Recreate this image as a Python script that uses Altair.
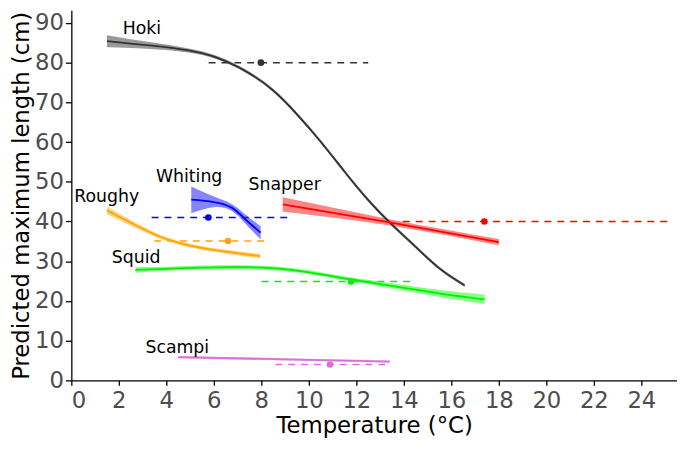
import altair as alt
import pandas as pd

species = ["Hoki", "Whiting", "Roughy", "Snapper", "Squid", "Scampi"]
colors = ["#333333", "#0000ff", "#ffa500", "#ff0000", "#00ee00", "#da70d6"]
band_colors = ["#555555", "#3333ff", "#ffb732", "#ff3333", "#33ff33", "#e08ce0"]

# fitted curves (temperature, predicted length, lower, upper)
hoki_x = [1.5, 2.5, 3.5, 4.5, 5.5, 6.5, 7.5, 8.5, 9.5, 10.5, 11.5, 12.5, 13.5, 14.5, 15.5, 16.56]
hoki_y = [85.4, 84.8, 84.2, 83.5, 82.4, 80.4, 77.3, 73.0, 67.0, 60.1, 52.6, 45.4, 39.2, 33.6, 28.2, 23.9]
hoki_hw = [1.5, 1.1, 0.8, 0.6, 0.45, 0.4, 0.4, 0.4, 0.45, 0.45, 0.45, 0.45, 0.45, 0.4, 0.4, 0.4]

whiting_x = [5.05, 6.0, 6.75, 7.3, 7.97]
whiting_y = [45.5, 44.9, 43.5, 40.7, 37.2]
whiting_lo = [42.1, 43.6, 42.7, 39.6, 35.5]
whiting_hi = [48.8, 46.3, 44.4, 41.9, 38.8]

roughy_x = [1.5, 2.3, 3.2, 4.0, 5.1, 6.5, 7.95]
roughy_y = [42.8, 40.3, 37.6, 35.6, 33.8, 32.4, 31.3]
roughy_hw = [1.0, 0.8, 0.6, 0.5, 0.5, 0.5, 0.6]

snapper_x = [8.9, 13.4, 18.0]
snapper_y = [44.3, 39.8, 34.8]
snapper_hw = [1.8, 0.8, 0.8]

squid_x = [2.7, 4.0, 5.5, 7.0, 8.3, 9.8, 11.8, 14.0, 15.6, 17.4]
squid_y = [27.8, 28.1, 28.4, 28.5, 28.3, 27.4, 25.4, 23.3, 21.8, 20.4]
squid_hw = [0.7, 0.5, 0.5, 0.5, 0.5, 0.5, 0.5, 0.7, 0.9, 1.2]

scampi_x = [4.5, 9.0, 13.4]
scampi_y = [5.83, 5.3, 4.74]
scampi_hw = [0.3, 0.3, 0.3]

# observed mean temperature (point), temperature range (dashed) and observed length
obs_x1 = [5.78, 3.38, 3.49, 13.96, 8.01, 8.59]
obs_x2 = [12.5, 9.12, 8.17, 25.2, 14.34, 13.34]
obs_pt = [7.98, 5.77, 6.6, 17.39, 11.78, 10.89]
obs_len = [80.0, 41.0, 35.1, 40.0, 24.9, 4.0]

# label positions
lab_x = [2.97, 4.96, 1.49, 8.98, 2.73, 4.46]
lab_y = [87.1, 50.0, 45.0, 47.9, 29.6, 6.8]

rows = []
def add(name, xs, ys, lo, hi):
    for a, b, c, d in zip(xs, ys, lo, hi):
        rows.append({"species": name, "temp": a, "len": b, "lo": c, "hi": d})

add("Hoki", hoki_x, hoki_y, [y - h for y, h in zip(hoki_y, hoki_hw)], [y + h for y, h in zip(hoki_y, hoki_hw)])
add("Whiting", whiting_x, whiting_y, whiting_lo, whiting_hi)
add("Roughy", roughy_x, roughy_y, [y - h for y, h in zip(roughy_y, roughy_hw)], [y + h for y, h in zip(roughy_y, roughy_hw)])
add("Snapper", snapper_x, snapper_y, [y - h for y, h in zip(snapper_y, snapper_hw)], [y + h for y, h in zip(snapper_y, snapper_hw)])
add("Squid", squid_x, squid_y, [y - h for y, h in zip(squid_y, squid_hw)], [y + h for y, h in zip(squid_y, squid_hw)])
add("Scampi", scampi_x, scampi_y, [y - h for y, h in zip(scampi_y, scampi_hw)], [y + h for y, h in zip(scampi_y, scampi_hw)])
curves = pd.DataFrame(rows)

obs = pd.DataFrame({"species": species, "x1": obs_x1, "x2": obs_x2, "pt": obs_pt, "len": obs_len})
labels = pd.DataFrame({"species": species, "lx": lab_x, "ly": lab_y})

xs = alt.Scale(domain=[0, 25.5], nice=False, zero=False)
ys = alt.Scale(domain=[0, 93.2], nice=False, zero=False)
col = alt.Color("species:N", scale=alt.Scale(domain=species, range=colors), legend=None)
bcol = alt.Color("species:N", scale=alt.Scale(domain=species, range=band_colors), legend=None)

xaxis = alt.Axis(values=list(range(0, 26, 2)), title="Temperature (°C)", tickSize=5,
                 labelPadding=4, titlePadding=3)
yaxis = alt.Axis(values=list(range(0, 91, 10)), title="Predicted maximum length (cm)", tickSize=6,
                 labelPadding=2, titleX=-38, titleBaseline="bottom")

base_x = alt.X("temp:Q", scale=xs, axis=xaxis)

dashed = alt.Chart(obs).mark_rule(strokeDash=[7, 6], strokeWidth=1.5).encode(
    x=alt.X("x1:Q", scale=xs, axis=xaxis), x2="x2:Q",
    y=alt.Y("len:Q", scale=ys, axis=yaxis), color=col)

points = alt.Chart(obs).mark_point(filled=True, size=45, opacity=1).encode(
    x=alt.X("pt:Q", scale=xs), y=alt.Y("len:Q", scale=ys), color=col)

bands = alt.Chart(curves).mark_area(opacity=0.6, interpolate="natural").encode(
    x=base_x, y=alt.Y("lo:Q", scale=ys, axis=yaxis), y2="hi:Q", color=bcol, detail="species:N")

lines = alt.Chart(curves).mark_line(strokeWidth=1.8, interpolate="natural").encode(
    x=base_x, y=alt.Y("len:Q", scale=ys), color=col, detail="species:N")

texts = alt.Chart(labels).mark_text(font="DejaVu Sans", fontSize=17.5, color="black",
                                    align="center", baseline="alphabetic").encode(
    x=alt.X("lx:Q", scale=xs), y=alt.Y("ly:Q", scale=ys), text="species:N")

chart = alt.layer(dashed, points, bands, lines, texts).resolve_scale(color="independent").properties(
    width=612, height=374,
    autosize=alt.AutoSizeParams(type="none"),
    padding={"left": 64, "top": 0, "right": 0, "bottom": 59},
).configure_view(stroke=None).configure_axis(
    grid=False, domainColor="black", tickColor="black", domainWidth=1.3, tickWidth=1.3,
    labelColor="#4d4d4d", labelFont="DejaVu Sans", labelFontSize=23,
    titleFont="DejaVu Sans", titleFontSize=23, titleColor="black", titleFontWeight="normal",
)

chart.save("out.html", embed_options={"renderer": "svg", "actions": False})
